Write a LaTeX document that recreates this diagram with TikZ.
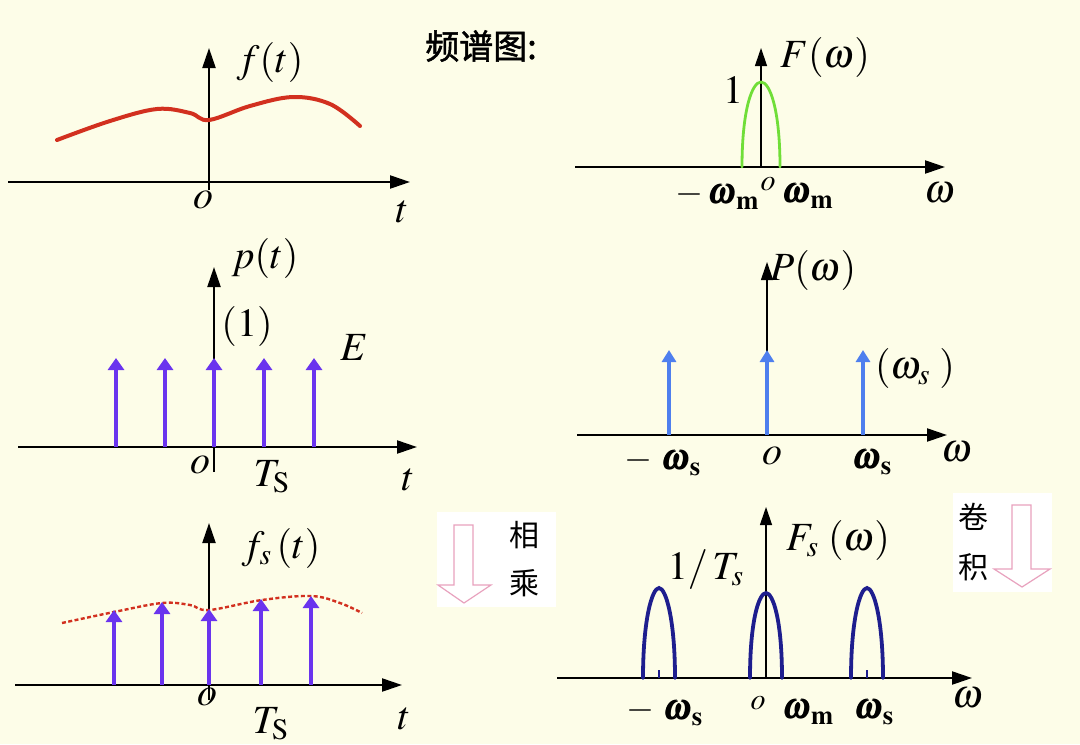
\documentclass[tikz,border=0pt]{standalone}
\usepackage{mathptmx}
\usepackage{bm}
\usepackage[no-math]{fontspec}
\setmainfont{Liberation Serif}
\newfontfamily\cjk{Noto Sans CJK SC}
\newfontfamily\cjkheavy[FakeBold=1.6]{Noto Sans CJK SC}
\usetikzlibrary{arrows.meta}
\definecolor{Bgcream}{HTML}{FDFDE8}
\definecolor{Sigred}{HTML}{D2301F}
\definecolor{Specgreen}{HTML}{70DE38}
\definecolor{Pulsepurple}{HTML}{6A34EE}
\definecolor{Pulseblue}{HTML}{4E7FEE}
\definecolor{Lobenavy}{HTML}{1E1E8E}
\definecolor{Hintpink}{HTML}{E8A2BE}
\newcommand{\axfont}{\fontsize{20}{24}\selectfont}
\newcommand{\bwfont}{\fontsize{18}{22}\selectfont}
\newcommand{\smfont}{\fontsize{15}{18}\selectfont}
\newcommand{\hanfont}{\cjk\fontsize{15}{18}\selectfont}
\tikzstyle{axis} = [
    line width=1.1pt,
    -{Triangle[length=10pt,width=6.5pt]}
]
\tikzstyle{vaxis} = [
    line width=0.6pt,
    -{Triangle[length=9pt,width=6pt]}
]
\tikzstyle{pulse} = [
    Pulsepurple,
    line width=2.4pt,
    -{Triangle[length=6pt,width=8pt]}
]
\tikzstyle{bluepulse} = [
    Pulseblue,
    line width=2pt,
    -{Triangle[length=6pt,width=7pt]}
]
\tikzstyle{lobe} = [
    line width=1.9pt,
    line cap=round
]
\tikzstyle{lbl} = [
    inner sep=0pt,
    font=\axfont
]
\tikzstyle{wlbl} = [
    inner sep=0pt,
    font=\bwfont
]
\tikzstyle{hintbox} = [
    fill=white
]
\tikzstyle{hintarrow} = [
    Hintpink,
    line width=0.6pt,
    line join=miter
]

\begin{document}
\begin{tikzpicture}[x=0.5pt, y=-0.5pt]

    \useasboundingbox (0,0) rectangle (1080,744);
    \fill[Bgcream] (0,0) rectangle (1080,744);

    % f(t)
    \draw [axis] (8,182) -- (410,182);
    \draw [axis] (209,190) -- (209,48);
    \draw [Sigred, line width=2pt, line cap=round] plot[smooth, tension=0.6] coordinates
        {(57,140) (110,121) (157,109) (190,113) (209,120) (250,106) (293,97) (330,104) (360,126)};
    \node (ft)     [lbl] at (270,62)  {$f(t)$};
    \node (ftO)    [lbl] at (203,200) {$o$};
    \node (ftT)    [lbl] at (402,212) {$t$};

    % F(omega)
    \node (title)  [inner sep=0pt] at (481,46) {\cjkheavy\fontsize{17}{20}\selectfont 频谱图:};
    \draw [axis]  (575,167) -- (945,167);
    \draw [vaxis] (761,167) -- (761,48);
    \draw [Specgreen, lobe, line width=1.4pt] (742,167) .. controls (742,110) and (752,82) .. (761,82)
                                              .. controls (770,82) and (780,110) .. (780,167);
    \node (Fw)     [lbl] at (825,57)  {$F(\omega)$};
    \node (FwOne)  [lbl] at (733,90)  {$1$};
    \node (FwMl)   [wlbl, anchor=east] at (760,196) {$-\,\bm{\omega}_{\mathbf{m}}$};
    \node (FwO)    [inner sep=0pt, font=\smfont] at (768,184) {$o$};
    \node (FwMr)   [wlbl, anchor=west] at (781,196) {$\bm{\omega}_{\mathbf{m}}$};
    \node (FwW)    [lbl] at (940,193) {$\omega$};

    % p(t)
    \draw [axis] (18,447) -- (417,447);
    \draw [axis] (214,472) -- (214,267);
    \foreach \x in {116,165,214,264,314}
        \draw [pulse] (\x,447) -- (\x,358);
    \node (pt)     [lbl] at (265,258) {$p(t)$};
    \node (ptOne)  [lbl] at (247,326) {$(1)$};
    \node (ptE)    [lbl] at (354,348) {$E$};
    \node (ptO)    [lbl] at (200,465) {$o$};
    \node (ptTs)   [lbl] at (272,477) {$T_{\mathrm{S}}$};
    \node (ptT)    [lbl] at (408,480) {$t$};

    % P(omega)
    \draw [axis]  (577,435) -- (947,435);
    \draw [vaxis] (767,435) -- (767,262);
    \foreach \x in {669,767,863}
        \draw [bluepulse] (\x,435) -- (\x,350);
    \node (Pw)     [lbl] at (813,270) {$P(\omega)$};
    \node (PwWs)   [lbl] at (915,368) {$(\omega_{s}\;)$};
    \node (PwSl)   [wlbl] at (663,462) {$-\;\bm{\omega}_{\mathbf{s}}$};
    \node (PwO)    [lbl] at (772,456) {$o$};
    \node (PwSr)   [wlbl] at (872,462) {$\bm{\omega}_{\mathbf{s}}$};
    \node (PwW)    [lbl] at (957,452) {$\omega$};

    % f_s(t)
    \draw [axis] (15,685) -- (402,685);
    \draw [axis] (209,700) -- (209,523);
    \draw [Sigred, line width=1.2pt, dash pattern=on 2pt off 1.2pt] plot[smooth, tension=0.6] coordinates
        {(62,623) (114,612) (162,603) (190,605) (209,610) (262,600) (311,596) (340,603) (362,613)};
    \foreach \x/\y in {114/610,162/602,209/609,261/599,311/596}
        \draw [pulse] (\x,685) -- (\x,\y);
    \node (fst)    [lbl] at (281,548) {$f_{s}\,(t)$};
    \node (fstO)   [lbl] at (207,697) {$o$};
    \node (fstTs)  [lbl] at (271,724) {$T_{\mathrm{S}}$};
    \node (fstT)   [lbl] at (404,719) {$t$};

    % multiply hint
    \fill [hintbox] (437,512) rectangle (556,607);
    \draw [hintarrow] (454,525) -- (454,585) -- (438,585) -- (464,603) -- (491,585) -- (473,585) -- (473,525) -- cycle;
    \node (mulA)   [inner sep=0pt, font=\hanfont] at (524,535) {相};
    \node (mulB)   [inner sep=0pt, font=\hanfont] at (524,583) {乘};

    % F_s(omega)
    \draw [axis]  (557,678) -- (972,678);
    \draw [vaxis] (766,678) -- (766,507);
    \foreach \c/\h in {659/588,766/593,867/588}
        \draw [Lobenavy, lobe] ({\c-16},678) .. controls ({\c-16},620) and ({\c-7},\h) .. (\c,\h)
                                             .. controls ({\c+7},\h) and ({\c+16},620) .. ({\c+16},678);
    \foreach \c in {659,867}
        \draw [Lobenavy, line width=0.8pt] (\c,678) -- (\c,670);
    \node (Fsw)    [lbl] at (838,540) {$F_{s}\;(\omega)$};
    \node (FswH)   [lbl] at (706,570) {$1/\,T_{s}$};
    \node (FswSl)  [wlbl] at (665,712) {$-\;\bm{\omega}_{\mathbf{s}}$};
    \node (FswO)   [inner sep=0pt, font=\smfont] at (758,703) {$o$};
    \node (FswM)   [wlbl] at (808,712) {$\bm{\omega}_{\mathbf{m}}$};
    \node (FswSr)  [wlbl] at (874,712) {$\bm{\omega}_{\mathbf{s}}$};
    \node (FswW)   [lbl] at (968,698) {$\omega$};

    % convolve hint
    \fill [hintbox] (953,493) rectangle (1052,592);
    \draw [hintarrow] (1012,505) -- (1012,569) -- (994,569) -- (1022,587) -- (1050,569) -- (1031,569) -- (1031,505) -- cycle;
    \node (conA)   [inner sep=0pt, font=\hanfont] at (973,517) {卷};
    \node (conB)   [inner sep=0pt, font=\hanfont] at (973,567) {积};

\end{tikzpicture}
\end{document}
